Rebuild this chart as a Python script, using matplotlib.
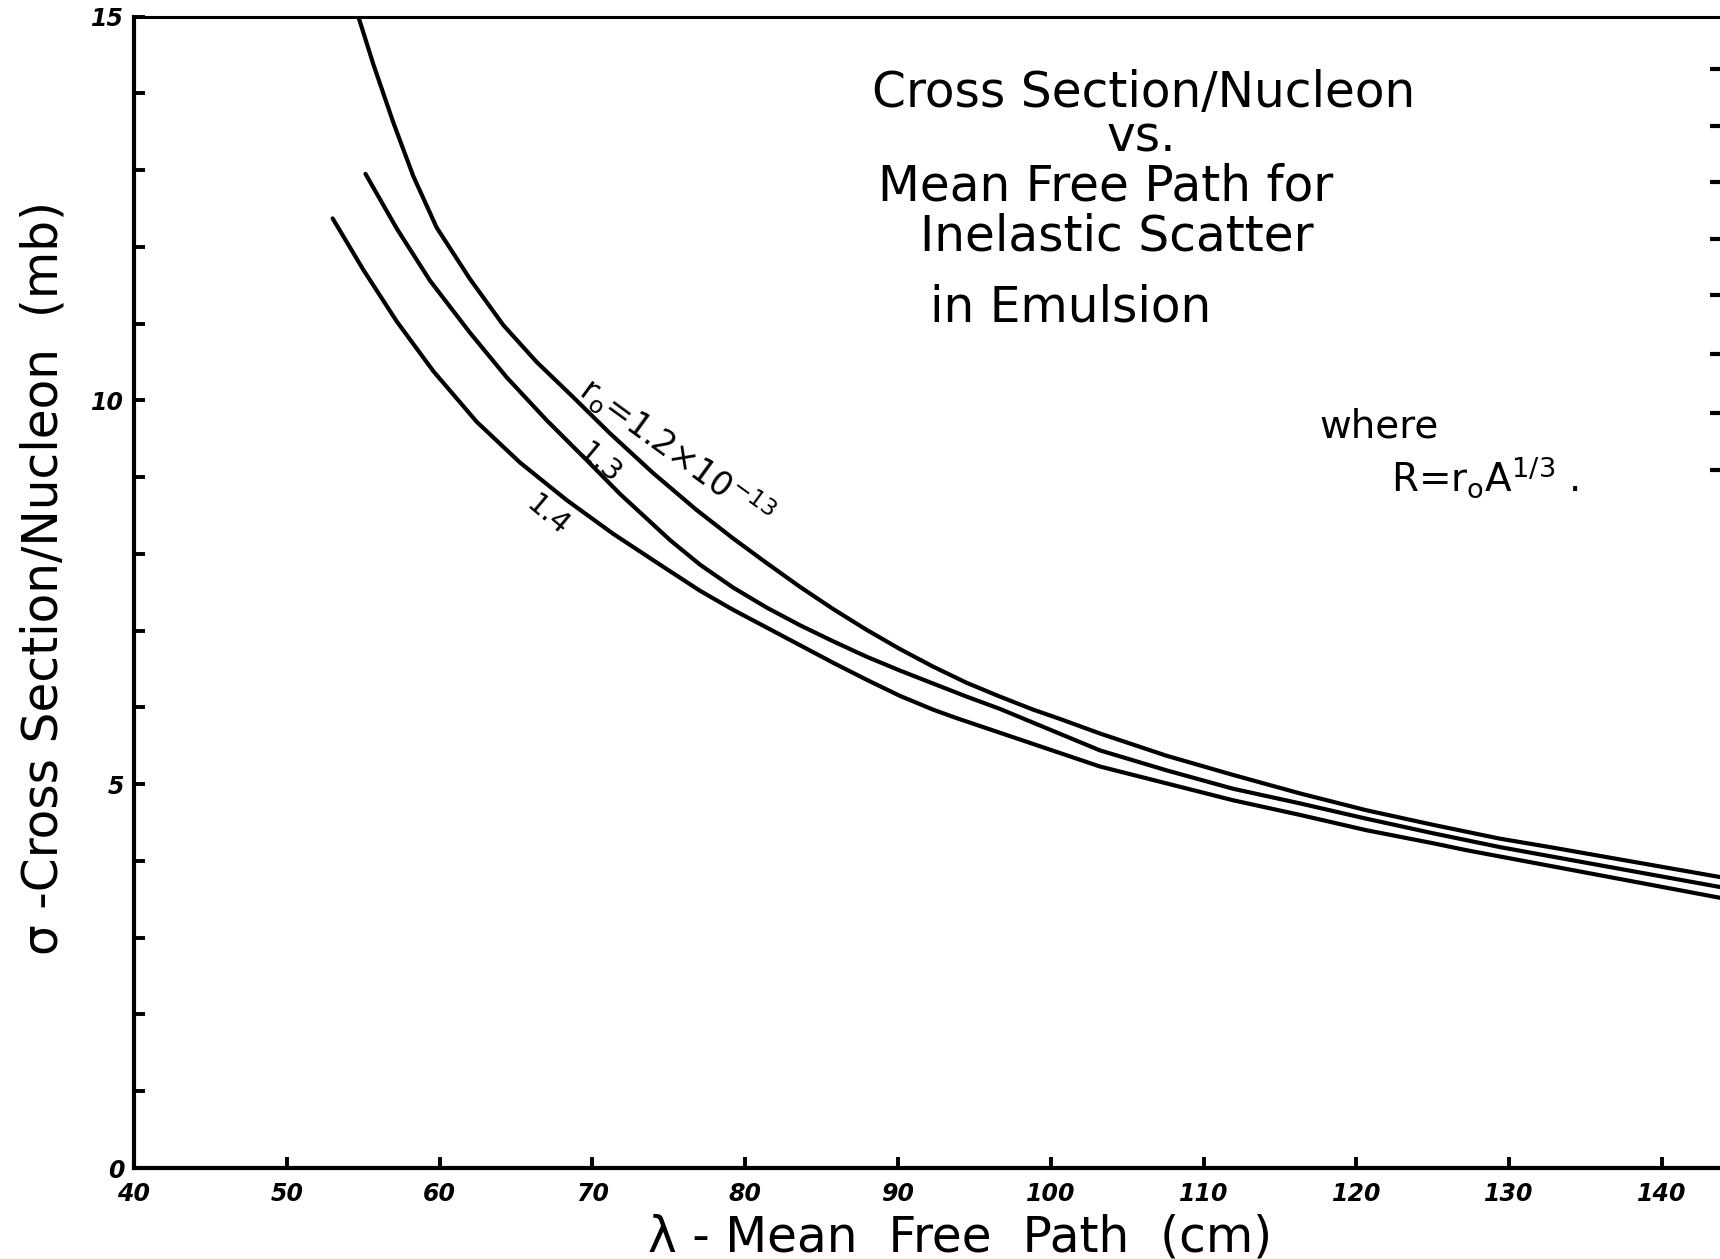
import numpy as np
import matplotlib.pyplot as plt
from matplotlib.ticker import MultipleLocator

# curves: mean free path (cm) vs cross section per nucleon (mb)
lam_12 = [54.68, 55.66, 56.97, 58.28, 59.81, 61.99, 64.17, 66.35, 68.75, 71.15,
          73.99, 76.83, 79.22, 81.41, 83.59, 85.77, 87.95, 90.13, 92.31, 94.50,
          96.68, 98.86, 100.60, 103.22, 107.58, 111.94, 116.30, 120.66, 125.03,
          129.40, 132.67, 143.8]
sig_12 = [15.00, 14.38, 13.62, 12.92, 12.25, 11.58, 10.98, 10.50, 10.04, 9.57,
          9.05, 8.57, 8.20, 7.88, 7.57, 7.28, 7.01, 6.76, 6.53, 6.32,
          6.14, 5.97, 5.85, 5.66, 5.37, 5.12, 4.88, 4.66, 4.47,
          4.29, 4.18, 3.79]

lam_13 = [55.15, 57.19, 59.37, 61.99, 64.39, 67.01, 69.63, 71.81, 75.08, 77.04,
          79.22, 81.41, 83.59, 85.77, 87.95, 90.13, 92.31, 94.50, 96.68, 103.22,
          107.58, 111.94, 116.30, 120.66, 125.03, 129.40, 143.8]
sig_13 = [12.95, 12.24, 11.56, 10.88, 10.30, 9.74, 9.22, 8.78, 8.18, 7.86,
          7.56, 7.30, 7.07, 6.86, 6.66, 6.48, 6.31, 6.14, 5.98, 5.44,
          5.18, 4.94, 4.75, 4.55, 4.36, 4.18, 3.66]

lam_14 = [53.00, 55.01, 57.19, 59.59, 62.43, 65.26, 68.32, 71.37, 74.42, 77.04,
          79.22, 81.41, 83.59, 85.77, 87.95, 90.13, 92.31, 93.84, 103.22, 107.58,
          111.94, 116.30, 120.66, 125.03, 127.20, 143.8]
sig_14 = [12.37, 11.70, 11.03, 10.38, 9.72, 9.19, 8.70, 8.26, 7.86, 7.52,
          7.27, 7.04, 6.81, 6.58, 6.36, 6.15, 5.97, 5.86, 5.23, 5.01,
          4.79, 4.60, 4.40, 4.23, 4.14, 3.52]

x_ticks = [40, 50, 60, 70, 80, 90, 100, 110, 120, 130, 140]
y_ticks = [0, 5, 10, 15]
right_ticks = [14.32, 13.58, 12.84, 12.10, 11.37, 10.61, 9.84, 9.09]

title_lines = ["Cross Section/Nucleon", "vs.", "Mean Free Path for",
               "Inelastic Scatter", "in Emulsion"]
title_x = [106.1, 105.9, 103.6, 104.3, 101.3]
title_y = [14.0, 13.42, 12.79, 12.14, 11.21]

fig = plt.figure(figsize=(17.2, 12.59), dpi=100, facecolor='white')
ax = fig.add_axes([134/1720, 91/1259, 1586/1720, 1151.5/1259])

for lam, sig in [(lam_12, sig_12), (lam_13, sig_13), (lam_14, sig_14)]:
    ax.plot(lam, sig, color='black', lw=3, solid_capstyle='round',
            solid_joinstyle='round')

ax.set_xlim(40, 143.8)
ax.set_ylim(0, 15)

ax.spines['right'].set_visible(False)
ax.spines['top'].set_linewidth(2.2)
ax.spines['left'].set_linewidth(3)
ax.spines['bottom'].set_linewidth(3)

ax.set_xticks(x_ticks)
ax.set_yticks(y_ticks)
ax.yaxis.set_minor_locator(MultipleLocator(1))
ax.tick_params(which='both', direction='in', length=8, width=2.8, top=False, right=False)
ax.tick_params(axis='x', labelsize=17, pad=10)
ax.tick_params(axis='y', labelsize=17, pad=7)
for t in ax.get_xticklabels() + ax.get_yticklabels():
    t.set_fontweight('bold')
    t.set_fontstyle('italic')

# short dashes along the right edge
tw = ax.twinx()
tw.set_ylim(0, 15)
tw.set_yticks(right_ticks)
tw.tick_params(direction='in', length=7, width=3, labelright=False)
for s in tw.spines.values():
    s.set_visible(False)

fig.text(960/1720, 1 - 1237/1259, "λ - Mean  Free  Path  (cm)", fontsize=35,
         ha='center', va='center')
fig.text(44/1720, 1 - 578/1259, "σ -Cross Section/Nucleon  (mb)", fontsize=35,
         ha='center', va='center', rotation=90)

for s, x, y in zip(title_lines, title_x, title_y):
    ax.text(x, y, s, fontsize=35, ha='center', va='center')

ax.text(75.5, 9.33, r"r$_{\rm o}$=1.2×10$^{-13}$", fontsize=24, rotation=-36,
        ha='center', va='center', rotation_mode='anchor')
ax.text(70.5, 9.17, "1.3", fontsize=21, rotation=-40,
        ha='center', va='center', rotation_mode='anchor')
ax.text(67.1, 8.5, "1.4", fontsize=21, rotation=-40,
        ha='center', va='center', rotation_mode='anchor')

ax.text(121.5, 9.66, "where", fontsize=28, ha='center', va='center')
ax.text(128.4, 9.0, r"R=r$_{\rm o}$A$^{1/3}$ .", fontsize=28, ha='center', va='center')

fig.savefig("out.png", dpi=100, facecolor='white')
